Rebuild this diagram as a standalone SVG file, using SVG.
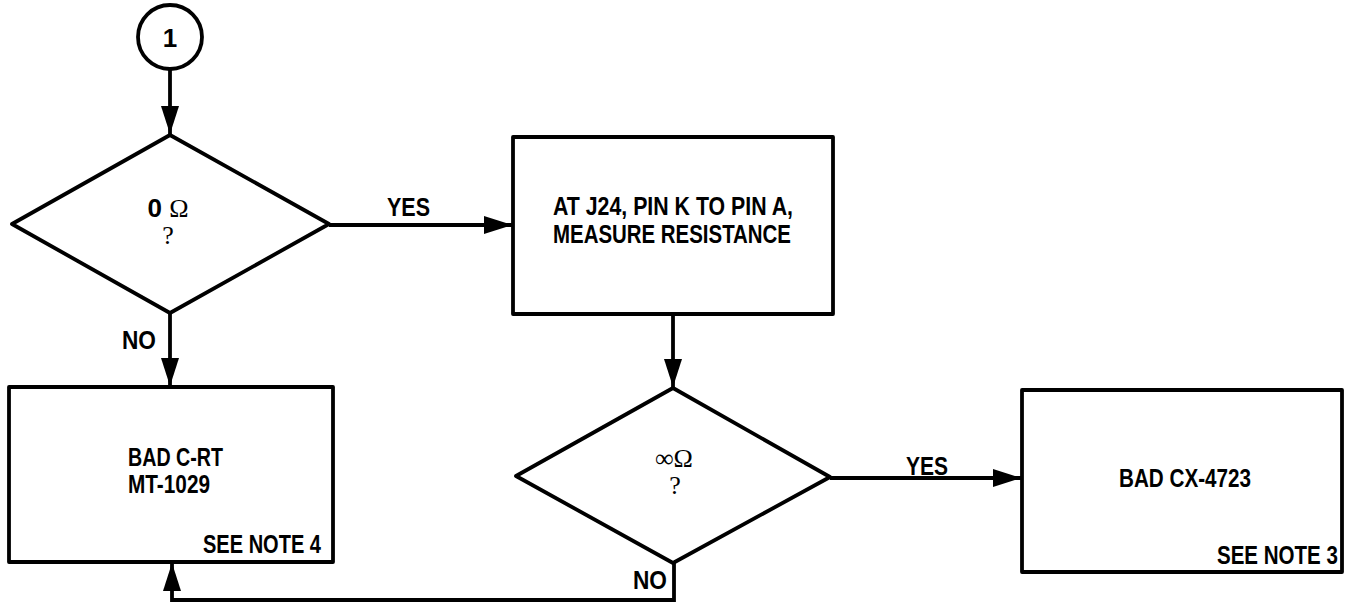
<svg xmlns="http://www.w3.org/2000/svg" width="1352" height="606" viewBox="0 0 1352 606">
<style>
.shape{fill:#fff;stroke:#000;stroke-width:3.8;stroke-linejoin:round}
.conn{fill:none;stroke:#000;stroke-width:3.8;stroke-linejoin:miter}
.t{font-family:"Liberation Sans",Arial,sans-serif;font-weight:bold;font-size:26px;fill:#000}
.s{font-family:"Liberation Serif","Times New Roman",serif;font-size:26px;fill:#000}
</style>
<defs>
<marker id="arr" markerUnits="userSpaceOnUse" markerWidth="30" markerHeight="20" refX="28" refY="9" orient="auto">
<path d="M0,0 L28,9 L0,18 Z" fill="#000"/>
</marker>
</defs>
<rect width="1352" height="606" fill="#fff"/>
<g id="connectors">
<line class="conn" x1="170" y1="69" x2="170" y2="134" marker-end="url(#arr)"/>
<line class="conn" x1="329" y1="225" x2="512" y2="225" marker-end="url(#arr)"/>
<line class="conn" x1="170" y1="313" x2="170" y2="386" marker-end="url(#arr)"/>
<line class="conn" x1="673" y1="314" x2="673" y2="387" marker-end="url(#arr)"/>
<line class="conn" x1="830" y1="478" x2="1021" y2="478" marker-end="url(#arr)"/>
<polyline class="conn" points="674,563 674,600 172,600 172,563" marker-end="url(#arr)"/>
<text class="t" x="387" y="216" textLength="43" lengthAdjust="spacingAndGlyphs">YES</text>
<text class="t" x="122" y="349" textLength="34" lengthAdjust="spacingAndGlyphs">NO</text>
<text class="t" x="906" y="475" textLength="42" lengthAdjust="spacingAndGlyphs">YES</text>
<text class="t" x="633" y="589" textLength="34" lengthAdjust="spacingAndGlyphs">NO</text>
</g>
<g id="start">
<circle class="shape" cx="170" cy="37" r="32"/>
<text class="t" x="170" y="47" text-anchor="middle">1</text>
</g>
<g id="decision1">
<polygon class="shape" points="12,224 170,135 329,224 170,313"/>
<text x="168" y="217" text-anchor="middle"><tspan class="t" font-size="24">0 </tspan><tspan class="s" font-size="27">Ω</tspan></text>
<text class="s" x="168" y="244" text-anchor="middle" font-size="24">?</text>
</g>
<g id="measure">
<rect class="shape" x="513" y="137" width="320" height="177"/>
<text class="t" x="553" y="215" textLength="240" lengthAdjust="spacingAndGlyphs" font-size="24">AT J24, PIN K TO PIN A,</text>
<text class="t" x="553" y="243" textLength="238" lengthAdjust="spacingAndGlyphs" font-size="25">MEASURE RESISTANCE</text>
</g>
<g id="badcrt">
<rect class="shape" x="9" y="387" width="324" height="175"/>
<text class="t" x="128" y="466" textLength="95" lengthAdjust="spacingAndGlyphs" font-size="25">BAD C-RT</text>
<text class="t" x="128" y="493" textLength="82" lengthAdjust="spacingAndGlyphs" font-size="25">MT-1029</text>
<text class="t" x="203" y="553" textLength="118" lengthAdjust="spacingAndGlyphs" font-size="25">SEE NOTE 4</text>
</g>
<g id="decision2">
<polygon class="shape" points="516,476 673,388 830,477 673,563"/>
<text class="s" x="674" y="467" text-anchor="middle" font-size="27">∞Ω</text>
<text class="s" x="675" y="494" text-anchor="middle" font-size="24">?</text>
</g>
<g id="badcx">
<rect class="shape" x="1022" y="390" width="320" height="182"/>
<text class="t" x="1119" y="487" textLength="132" lengthAdjust="spacingAndGlyphs">BAD CX-4723</text>
<text class="t" transform="translate(1217,564) scale(0.79,1)" x="0" y="0" font-size="25">SEE NOTE 3</text>
</g>
</svg>
